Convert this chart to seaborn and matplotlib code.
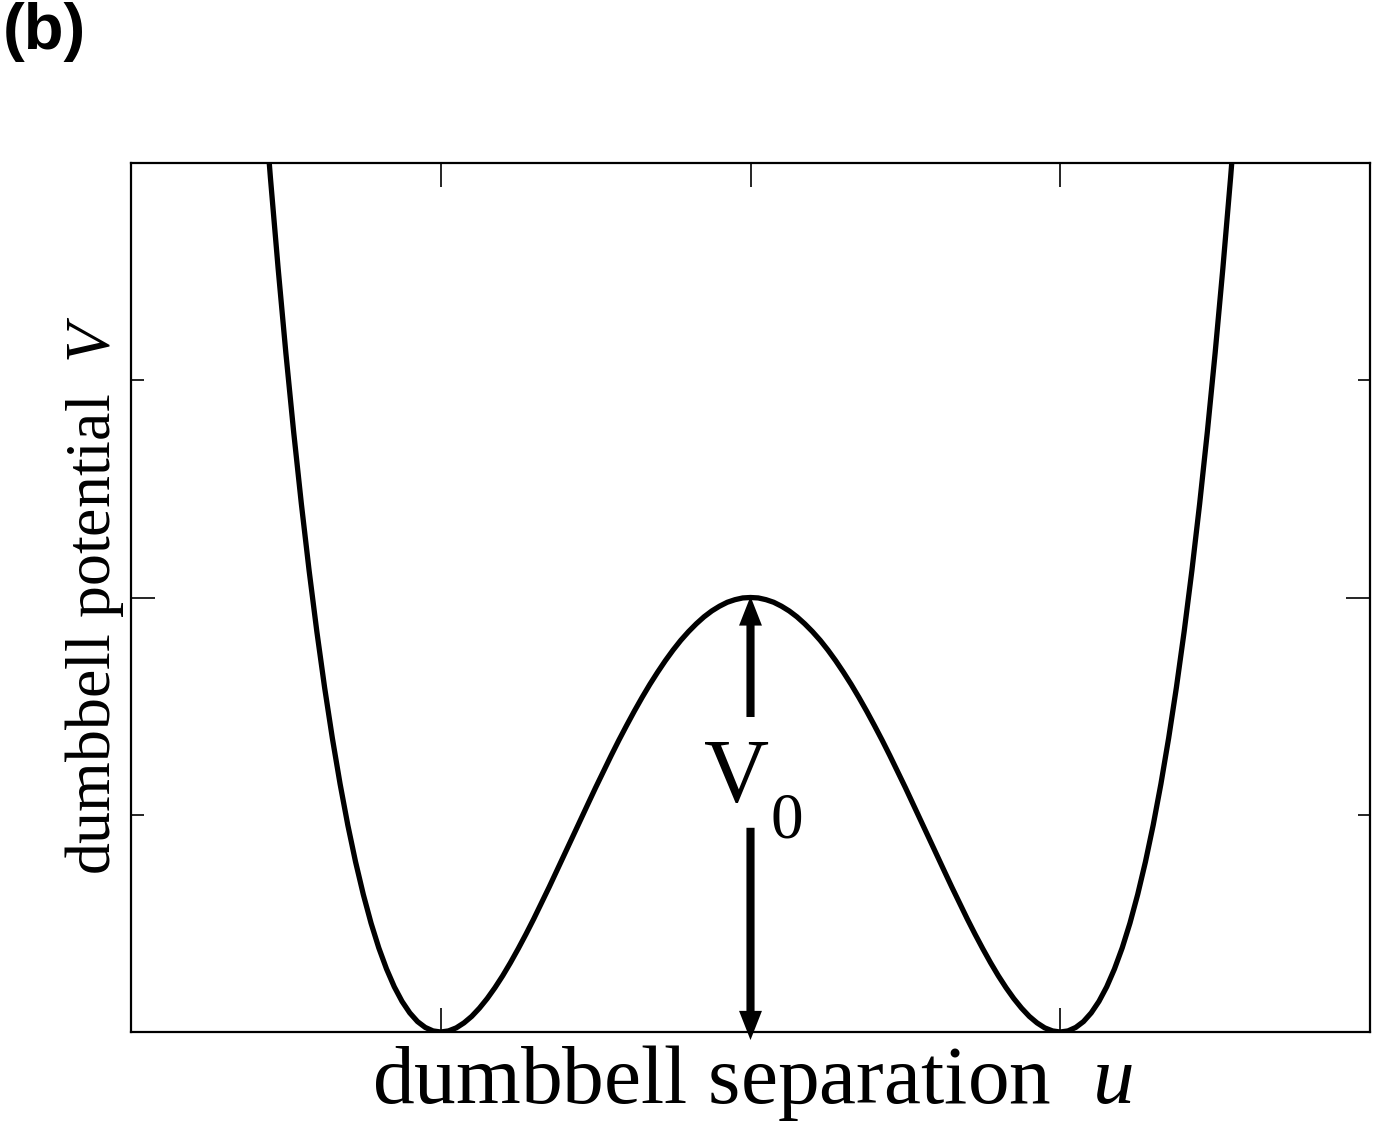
import numpy as np
import pandas as pd
import matplotlib
matplotlib.use("Agg")
import matplotlib.pyplot as plt
import seaborn as sns

# dumbbell separation u (axis units: wells at 1 and 3, barrier top at 2)
u = [0.400, 0.425, 0.450, 0.475, 0.500, 0.525, 0.550, 0.575, 0.600, 0.625,
     0.650, 0.675, 0.700, 0.725, 0.750, 0.775, 0.800, 0.825, 0.850, 0.875,
     0.900, 0.925, 0.950, 0.975, 1.000, 1.025, 1.050, 1.075, 1.100, 1.125,
     1.150, 1.175, 1.200, 1.225, 1.250, 1.275, 1.300, 1.325, 1.350, 1.375,
     1.400, 1.425, 1.450, 1.475, 1.500, 1.525, 1.550, 1.575, 1.600, 1.625,
     1.650, 1.675, 1.700, 1.725, 1.750, 1.775, 1.800, 1.825, 1.850, 1.875,
     1.900, 1.925, 1.950, 1.975, 2.000, 2.025, 2.050, 2.075, 2.100, 2.125,
     2.150, 2.175, 2.200, 2.225, 2.250, 2.275, 2.300, 2.325, 2.350, 2.375,
     2.400, 2.425, 2.450, 2.475, 2.500, 2.525, 2.550, 2.575, 2.600, 2.625,
     2.650, 2.675, 2.700, 2.725, 2.750, 2.775, 2.800, 2.825, 2.850, 2.875,
     2.900, 2.925, 2.950, 2.975, 3.000, 3.025, 3.050, 3.075, 3.100, 3.125,
     3.150, 3.175, 3.200, 3.225, 3.250, 3.275, 3.300, 3.325, 3.350, 3.375,
     3.400, 3.425, 3.450, 3.475, 3.500, 3.525, 3.550, 3.575, 3.600]
# dumbbell potential V
V = [4.867, 4.385, 3.934, 3.515, 3.125, 2.764, 2.431, 2.124, 1.843, 1.586,
     1.353, 1.142, 0.952, 0.783, 0.633, 0.501, 0.387, 0.290, 0.208, 0.141,
     0.088, 0.048, 0.021, 0.005, 0.000, 0.005, 0.019, 0.042, 0.072, 0.110,
     0.154, 0.204, 0.259, 0.319, 0.383, 0.450, 0.520, 0.593, 0.667, 0.743,
     0.819, 0.896, 0.973, 1.049, 1.125, 1.199, 1.272, 1.343, 1.411, 1.477,
     1.540, 1.600, 1.656, 1.709, 1.758, 1.803, 1.843, 1.879, 1.911, 1.938,
     1.960, 1.978, 1.990, 1.998, 2.000, 1.998, 1.990, 1.978, 1.960, 1.938,
     1.911, 1.879, 1.843, 1.803, 1.758, 1.709, 1.656, 1.600, 1.540, 1.477,
     1.411, 1.343, 1.272, 1.199, 1.125, 1.049, 0.973, 0.896, 0.819, 0.743,
     0.667, 0.593, 0.520, 0.450, 0.383, 0.319, 0.259, 0.204, 0.154, 0.110,
     0.072, 0.042, 0.019, 0.005, 0.000, 0.005, 0.021, 0.048, 0.088, 0.141,
     0.208, 0.290, 0.387, 0.501, 0.633, 0.783, 0.952, 1.142, 1.353, 1.586,
     1.843, 2.124, 2.431, 2.764, 3.125, 3.515, 3.934, 4.385, 4.867]
barrier_u = 2.0
barrier_V = 2.0

df = pd.DataFrame({"u": u, "V": V})

sns.set_style("white")
plt.rcParams["font.family"] = ["Liberation Serif", "DejaVu Serif"]
plt.rcParams["text.color"] = "black"
plt.rcParams["mathtext.fontset"] = "custom"
plt.rcParams["mathtext.rm"] = "Liberation Serif"
plt.rcParams["mathtext.it"] = "Liberation Serif:italic"

W, H = 1375, 1127
fig = plt.figure(figsize=(W / 100, H / 100), dpi=100)
ax = fig.add_axes([131 / W, 1 - 1032 / H, (1370 - 131) / W, (1032 - 163) / H])

sns.lineplot(data=df, x="u", y="V", ax=ax, color="black", lw=3.8,
             estimator=None, sort=False, legend=False)

ax.set_xlim(0, 4)
ax.set_ylim(0, 4)
ax.set_xticks([1, 2, 3])
ax.set_yticks([2])
ax.set_yticks([1, 3], minor=True)
ax.tick_params(which="both", direction="in", top=True, right=True,
               bottom=True, left=True, labelbottom=False, labelleft=False,
               color="black", width=1.2)
ax.tick_params(which="major", length=17)
ax.tick_params(which="minor", length=9)
for sp in ax.spines.values():
    sp.set_linewidth(1.6)
    sp.set_color("black")
ax.set_xlabel("")
ax.set_ylabel("")

# barrier height arrows
arrow_style = "simple,head_length=1.4,head_width=1.1,tail_width=0.39"
ax.annotate("", xy=(barrier_u, barrier_V + 0.005), xytext=(barrier_u, 1.45),
            annotation_clip=False,
            arrowprops=dict(arrowstyle=arrow_style, mutation_scale=15,
                            fc="black", ec="none", shrinkA=0, shrinkB=0))
ax.annotate("", xy=(barrier_u, -0.037), xytext=(barrier_u, 0.94),
            annotation_clip=False,
            arrowprops=dict(arrowstyle=arrow_style, mutation_scale=15,
                            fc="black", ec="none", shrinkA=0, shrinkB=0))

fig.text(737 / W, 1 - 802 / H, "V", fontsize=65, ha="center", va="baseline",
         color="black")
fig.text(787 / W, 1 - 838 / H, "0", fontsize=47, ha="center", va="baseline",
         color="black")

fig.text(752 / W, 1 - 1103 / H, r"dumbbell separation  $u$", fontsize=60,
         ha="center", va="baseline", color="black")
fig.text(110 / W, 1 - 595 / H, r"dumbbell potential  $V$", fontsize=46,
         ha="center", va="baseline", rotation=90, rotation_mode="anchor",
         color="black")

fig.text(3 / W, 1 - 2 / H, "(b)", fontsize=47, fontweight="bold",
         family=["Liberation Sans", "DejaVu Sans"], ha="left", va="top",
         color="black")

fig.savefig("out.png", dpi=100, facecolor="white")
